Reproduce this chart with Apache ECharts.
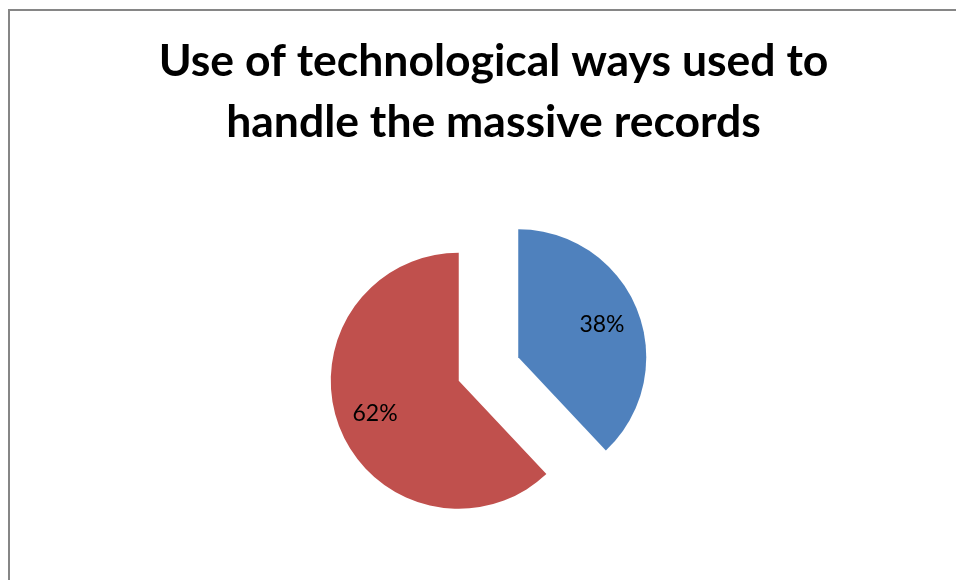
<!DOCTYPE html>
<html>
<head>
<meta charset="utf-8">
<script src="https://cdn.jsdelivr.net/npm/echarts@6/dist/echarts.min.js"></script>
<style>
  html, body { margin: 0; padding: 0; background: #fff; }
  #chart { width: 956px; height: 580px; }
</style>
</head>
<body>
<div id="chart"></div>
<script>
// Survey answers and their shares
const categories = ['Yes', 'No'];
const shares = [38, 62];
const sliceColors = ['#4F81BD', '#C0504D'];

const chart = echarts.init(document.getElementById('chart'), null, { renderer: 'canvas' });

const pieCenter = [488.5, 369];
const explode = 32;

// Coloured, exploded wedges
const wedgeData = categories.map((name, i) => ({
  name: name,
  value: shares[i],
  selected: true,
  itemStyle: { color: sliceColors[i] }
}));

// Same wedges, invisible and wider, used only to place the percentage labels further out
const labelData = categories.map((name, i) => ({
  name: name,
  value: shares[i],
  selected: true
}));

chart.setOption({
  animation: false,
  backgroundColor: '#ffffff',
  title: {
    text: 'Use of technological ways used to\nhandle the massive records',
    left: 488.5,
    textAlign: 'center',
    top: 26,
    textStyle: {
      fontFamily: 'Lato',
      fontWeight: 'bold',
      fontSize: 44.5,
      lineHeight: 61,
      color: '#000000'
    }
  },
  graphic: [{
    type: 'rect',
    shape: { x: 9, y: 10, width: 1000, height: 620 },
    style: { fill: 'none', stroke: '#868686', lineWidth: 2 },
    silent: true
  }],
  series: [{
    type: 'pie',
    center: pieCenter,
    radius: [0, 128],
    startAngle: 90,
    clockwise: true,
    selectedMode: 'multiple',
    selectedOffset: explode,
    emphasis: { disabled: true },
    label: { show: false },
    labelLine: { show: false },
    data: wedgeData
  }, {
    type: 'pie',
    center: pieCenter,
    radius: [0, 174],
    startAngle: 90,
    clockwise: true,
    selectedMode: 'multiple',
    selectedOffset: explode,
    silent: true,
    z: 3,
    itemStyle: { color: 'rgba(0,0,0,0)' },
    emphasis: { disabled: true },
    label: {
      show: true,
      position: 'inside',
      formatter: p => p.value + '%',
      fontFamily: 'Lato',
      fontSize: 23,
      color: '#000000'
    },
    labelLine: { show: false },
    data: labelData
  }]
});
</script>
</body>
</html>
